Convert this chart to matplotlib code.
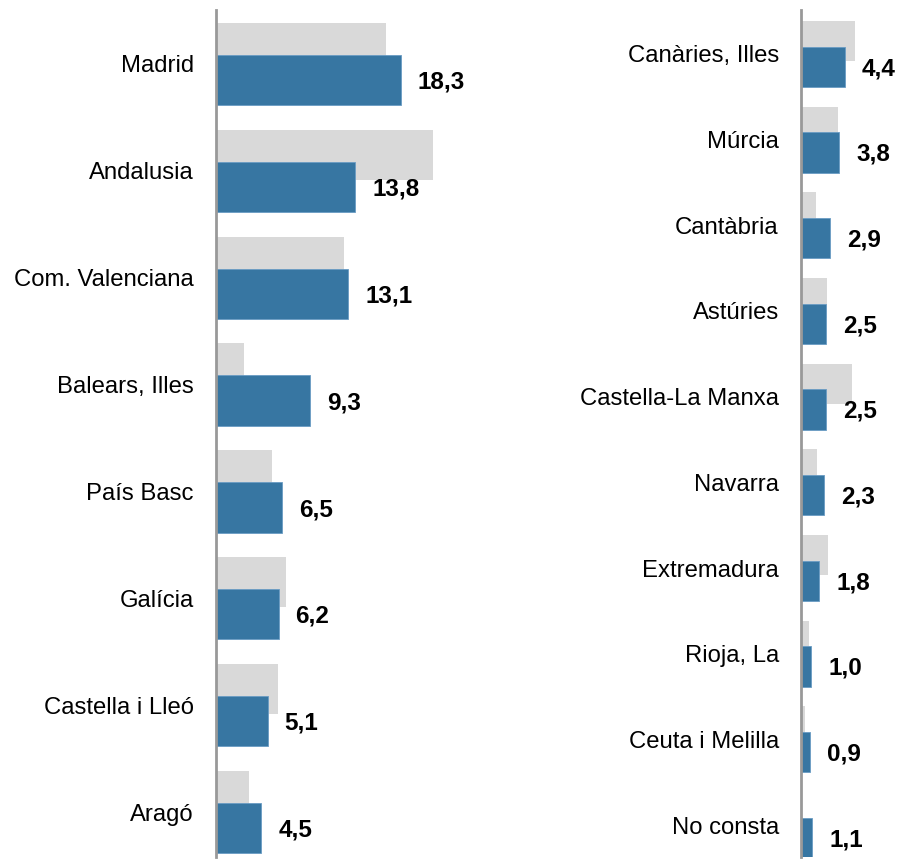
import numpy as np
import matplotlib.pyplot as plt

left_regions = ['Madrid', 'Andalusia', 'Com. Valenciana', 'Balears, Illes',
                'País Basc', 'Galícia', 'Castella i Lleó', 'Aragó']
left_now = [18.3, 13.8, 13.1, 9.3, 6.5, 6.2, 5.1, 4.5]
left_prev = [16.8, 21.5, 12.7, 2.8, 5.5, 6.9, 6.1, 3.3]

right_regions = ['Canàries, Illes', 'Múrcia', 'Cantàbria', 'Astúries',
                 'Castella-La Manxa', 'Navarra', 'Extremadura', 'Rioja, La',
                 'Ceuta i Melilla', 'No consta']
right_now = [4.4, 3.8, 2.9, 2.5, 2.5, 2.3, 1.8, 1.0, 0.9, 1.1]
right_prev = [5.4, 3.7, 1.5, 2.6, 5.1, 1.6, 2.7, 0.8, 0.4, 0.0]

blue = '#3776a2'
grey = '#d9d9d9'
plt.rcParams['font.family'] = ['Liberation Sans', 'DejaVu Sans']

W, H = 897, 860
fig = plt.figure(figsize=(W / 100, H / 100), dpi=100)

# axes placed in pixels: left edge, right edge, top 10, bottom 857
ax1 = fig.add_axes([216 / W, 1 - 857 / H, (480 - 216) / W, (857 - 10) / H])
ax2 = fig.add_axes([801 / W, 1 - 857 / H, (897 - 801) / W, (857 - 10) / H])


def draw(ax, names, now, prev, xmax, ylim):
    y = np.arange(len(names))
    ax.barh(y - 0.15, prev, height=0.47, color=grey, zorder=1)
    ax.barh(y + 0.15, now, height=0.47, color=blue, edgecolor='#6a9cc4',
            linewidth=0.6, zorder=2)
    for yi, v in zip(y, now):
        ax.annotate(f'{v:.1f}'.replace('.', ','), (v, yi + 0.17),
                    xytext=(17, 0), textcoords='offset pixels',
                    ha='left', va='center', fontsize=17.5, fontweight='bold')
    ax.set_yticks(y)
    ax.set_yticklabels(names, fontsize=17.2)
    ax.tick_params(axis='y', length=0, pad=16)
    ax.set_xticks([])
    ax.set_xlim(0, xmax)
    ax.set_ylim(*ylim)
    for s in ['top', 'right', 'bottom']:
        ax.spines[s].set_visible(False)
    ax.spines['left'].set_color('#999999')
    ax.spines['left'].set_linewidth(2)
    ax.spines['left'].set_zorder(3)


# 107 px per category on the left, 85.7 px on the right
draw(ax1, left_regions, left_now, left_prev, (480 - 216) / 10.1,
     (7 + (857 - 812) / 107, -(64 - 10) / 107))
draw(ax2, right_regions, right_now, right_prev, (897 - 801) / 10.0,
     (9 + (857 - 825) / 85.7, -(54 - 10) / 85.7))

fig.savefig('out.png', dpi=100)
